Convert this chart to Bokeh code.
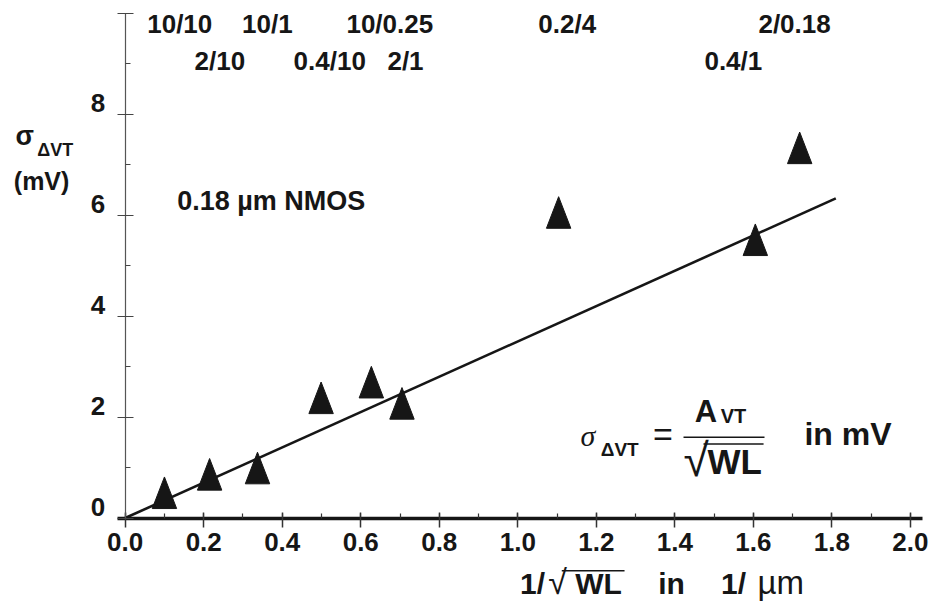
from bokeh.plotting import figure
from bokeh.models import (Range1d, LinearAxis, SingleIntervalTicker, NumeralTickFormatter,
                          CustomLabelingPolicy)
from bokeh.core.properties import value
from bokeh.embed import file_html
from bokeh.resources import INLINE

# ---------------- data ----------------
inv_sqrt_wl = [0.100, 0.215, 0.337, 0.499, 0.627, 0.705, 1.104, 1.605, 1.718]   # 1/sqrt(WL) in 1/um
sigma_dvt = [0.50, 0.865, 0.99, 2.38, 2.69, 2.27, 6.05, 5.51, 7.33]             # sigma dVT in mV
fit_x = [0.0, 1.81]
fit_y = [0.0, 6.33]
device_labels = ["10/10", "10/1", "10/0.25", "0.2/4", "2/0.18",
                 "2/10", "0.4/10", "2/1", "0.4/1"]
device_label_x = [0.139, 0.362, 0.674, 1.126, 1.705,
                  0.241, 0.521, 0.714, 1.549]
device_label_row = [1, 1, 1, 1, 1, 2, 2, 2, 2]
y_tick_values = [0, 2, 4, 6, 8]
y_tick_labels = ["0", "2", "4", "6", "8"]

# ---------------- styling ----------------
W, H = 930, 603
X0, X1 = -0.3176, 2.0512
Y0, Y1 = -1.693, 10.248
INK = "#161616"
SANS = "Liberation Sans"
SHIFT = 0.40   # compensates the renderer's baseline placement (fraction of font size)
px_x = W / (X1 - X0)
px_y = H / (Y1 - Y0)

p = figure(width=W, height=H, x_range=Range1d(X0, X1), y_range=Range1d(Y0, Y1),
           x_axis_location=None, y_axis_location=None,
           toolbar_location=None, output_backend="svg",
           min_border_left=0, min_border_right=0, min_border_top=0, min_border_bottom=0,
           outline_line_color=None, background_fill_color="white")
p.xgrid.grid_line_color = None
p.ygrid.grid_line_color = None

xaxis = LinearAxis(fixed_location=0, bounds=(-0.02, 2.03),
                   ticker=SingleIntervalTicker(interval=0.2, num_minor_ticks=2),
                   formatter=NumeralTickFormatter(format="0.0"),
                   axis_line_width=3.5, axis_line_color=INK,
                   major_tick_in=6, major_tick_out=9, major_tick_line_width=1.5,
                   major_tick_line_color="#333333",
                   minor_tick_in=5, minor_tick_out=0, minor_tick_line_width=1.2,
                   minor_tick_line_color="#333333",
                   major_label_standoff=6,
                   major_label_text_font=SANS, major_label_text_font_style="bold",
                   major_label_text_font_size="26px", major_label_text_color=INK)
p.add_layout(xaxis, "below")

yaxis = LinearAxis(fixed_location=0, bounds=(0, 10),
                   ticker=SingleIntervalTicker(interval=2, num_minor_ticks=2),
                   axis_line_width=1.2, axis_line_color="#555555",
                   major_tick_in=8, major_tick_out=8, major_tick_line_width=1.2,
                   major_tick_line_color="#444444",
                   minor_tick_in=5, minor_tick_out=0, minor_tick_line_width=1.2,
                   minor_tick_line_color="#444444",
                   major_label_policy=CustomLabelingPolicy(
                       code="for (const i of indices) indices.unset(i)"))
p.add_layout(yaxis, "left")

# y tick labels (sit just above their ticks, as in the reference)
p.text(x=[0] * len(y_tick_values), y=y_tick_values, text=y_tick_labels,
       text_font=value(SANS), text_font_style="bold", text_font_size="26px",
       text_align="right", text_baseline="alphabetic", x_offset=-20,
       y_offset=-1 - round(SHIFT * 26), text_color=INK)

# fit line
p.line(fit_x, fit_y, line_width=2.6, line_color=INK)

# triangles (taller than equilateral, like the reference)
hw = 12.2 / px_x
hh = 15.8 / px_y
tri_xs = [[x - hw, x + hw, x] for x in inv_sqrt_wl]
tri_ys = [[y - hh, y - hh, y + hh] for y in sigma_dvt]
p.patches(tri_xs, tri_ys, fill_color=INK, line_color=INK, line_width=1)

# device W/L labels
row_y = {1: 9.59, 2: 8.85}
p.text(x=device_label_x, y=[row_y[r] for r in device_label_row], text=device_labels,
       text_font=value(SANS), text_font_style="bold", text_font_size="26px",
       text_align="center", text_baseline="alphabetic", y_offset=-round(SHIFT * 26),
       text_color=INK)


def txt(x, y, s, size, style="bold", align="left", font=SANS):
    p.text(x=[x], y=[y], text=[s], text_font=value(font), text_font_style=style,
           text_font_size=f"{size}px", text_align=align, text_baseline="alphabetic",
           y_offset=-round(SHIFT * size), text_color=INK)


# y axis title
txt(-0.2794, 7.343, "σ", 27)
txt(-0.2241, 7.145, "ΔVT", 18)
txt(-0.2837, 6.485, "(mV)", 25)

# process note
txt(0.3721, 6.055, "0.18 µm NMOS", 27, align="center")

# formula
txt(1.1788, 1.402, "σ", 30, style="italic", align="center", font="Liberation Serif")
txt(1.2596, 1.204, "ΔVT", 19, align="center")
txt(1.3694, 1.388, "=", 34, style="normal", align="center")
txt(1.4794, 1.871, "A", 31, align="center")
txt(1.5494, 1.871, "VT", 20, align="center")
p.segment(x0=[1.4221], y0=[1.600], x1=[1.6284], y1=[1.600], line_width=1.6, line_color=INK)
txt(1.4221, 0.802, "√", 46, style="normal")
p.segment(x0=[1.473], y0=[1.465], x1=[1.626], y1=[1.465], line_width=1.4, line_color=INK)
txt(1.5525, 0.8416, "WL", 35, align="center")
txt(1.841, 1.402, "in mV", 32, align="center")

# x axis title
txt(1.0375, -1.535, "1/", 30, align="center")
txt(1.1011, -1.545, "√", 34, style="normal", align="center")
p.segment(x0=[1.112], y0=[-1.045], x1=[1.2719], y1=[-1.045], line_width=1.4, line_color=INK)
txt(1.2056, -1.535, "WL", 30, align="center")
txt(1.3915, -1.535, "in", 30, align="center")
txt(1.5494, -1.535, "1/", 30, align="center")
txt(1.6697, -1.535, "µm", 33, style="normal", align="center")

open("out.html", "w").write(file_html(p, INLINE))
